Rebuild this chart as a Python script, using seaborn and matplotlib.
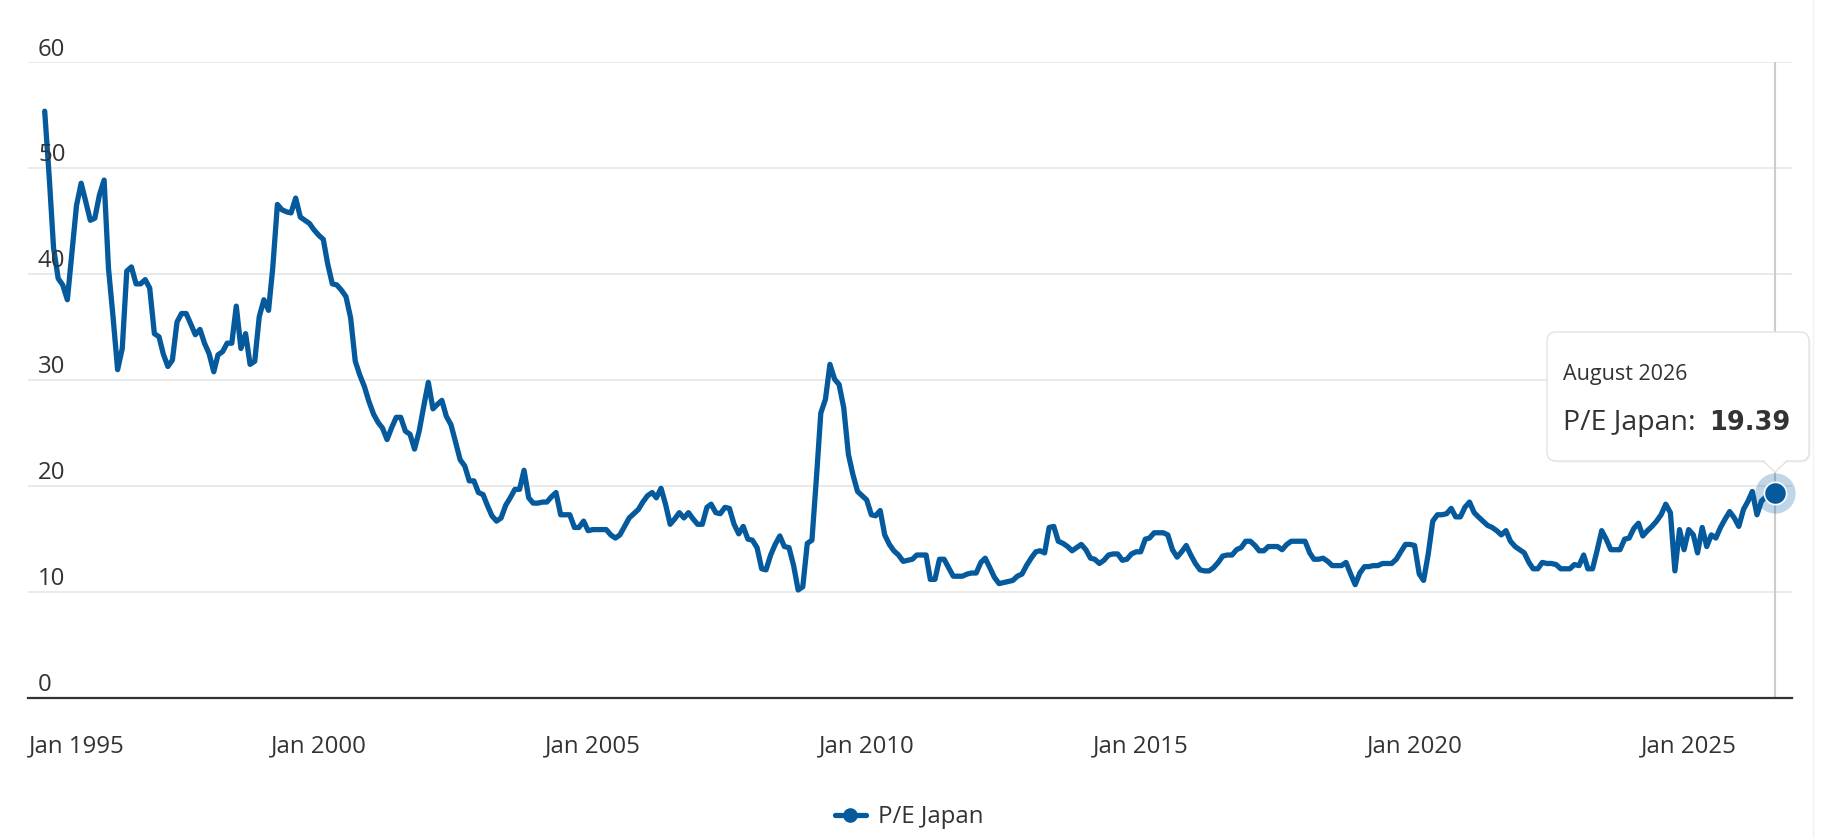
import matplotlib
matplotlib.use("Agg")
import matplotlib.pyplot as plt
import matplotlib.dates as mdates
from matplotlib.lines import Line2D
from matplotlib.patches import FancyBboxPatch, Polygon
from matplotlib.transforms import IdentityTransform, blended_transform_factory, offset_copy
import pandas as pd
import seaborn as sns

# monthly P/E values, Jan 1995 .. Aug 2026
start_month = "1995-01"
end_month = "2026-08"
pe_japan = [
    55.4, 49.0, 42.5, 39.6, 39.0, 37.6, 42.0, 46.5, 48.6, 46.9, 45.1, 45.3,  # 1995
    47.5, 48.9, 40.6, 35.9, 31.0, 33.0, 40.3, 40.7, 39.1, 39.1, 39.5, 38.7,  # 1996
    34.4, 34.1, 32.5, 31.3, 31.9, 35.5, 36.3, 36.3, 35.3, 34.3, 34.8, 33.5,  # 1997
    32.5, 30.8, 32.4, 32.7, 33.5, 33.5, 37.0, 33.0, 34.4, 31.5, 31.8, 36.0,  # 1998
    37.6, 36.6, 40.6, 46.6, 46.1, 45.9, 45.8, 47.2, 45.4, 45.1, 44.8, 44.2,  # 1999
    43.7, 43.3, 41.0, 39.1, 39.0, 38.5, 37.9, 35.9, 31.8, 30.5, 29.4, 28.0,  # 2000
    26.8, 26.0, 25.5, 24.4, 25.5, 26.5, 26.5, 25.2, 24.9, 23.5, 25.2, 27.5,  # 2001
    29.8, 27.3, 27.7, 28.1, 26.6, 25.8, 24.2, 22.5, 21.9, 20.5, 20.5, 19.4,  # 2002
    19.2, 18.1, 17.2, 16.7, 17.0, 18.2, 18.9, 19.7, 19.7, 21.5, 18.9, 18.4,  # 2003
    18.4, 18.5, 18.5, 19.0, 19.4, 17.3, 17.3, 17.3, 16.1, 16.1, 16.7, 15.8,  # 2004
    15.9, 15.9, 15.9, 15.9, 15.4, 15.1, 15.4, 16.2, 17.0, 17.4, 17.8, 18.5,  # 2005
    19.1, 19.4, 18.9, 19.8, 18.3, 16.4, 16.9, 17.5, 17.0, 17.5, 16.9, 16.4,  # 2006
    16.4, 18.0, 18.3, 17.5, 17.4, 18.0, 17.9, 16.4, 15.5, 16.2, 15.0, 14.9,  # 2007
    14.2, 12.2, 12.1, 13.5, 14.5, 15.3, 14.3, 14.2, 12.5, 10.2, 10.5, 14.6,  # 2008
    14.9, 21.0, 26.9, 28.2, 31.5, 30.1, 29.6, 27.4, 23.0, 21.1, 19.5, 19.1,  # 2009
    18.7, 17.3, 17.2, 17.7, 15.4, 14.5, 13.9, 13.5, 12.9, 13.0, 13.1, 13.5,  # 2010
    13.5, 13.5, 11.2, 11.2, 13.1, 13.1, 12.3, 11.5, 11.5, 11.5, 11.7, 11.8,  # 2011
    11.8, 12.8, 13.2, 12.3, 11.4, 10.8, 10.9, 11.0, 11.1, 11.5, 11.7, 12.5,  # 2012
    13.2, 13.8, 13.9, 13.7, 16.1, 16.2, 14.8, 14.6, 14.3, 13.9, 14.2, 14.5,  # 2013
    14.0, 13.2, 13.1, 12.7, 13.0, 13.5, 13.6, 13.6, 13.0, 13.1, 13.6, 13.8,  # 2014
    13.8, 15.0, 15.1, 15.6, 15.6, 15.6, 15.4, 14.0, 13.3, 13.8, 14.4, 13.5,  # 2015
    12.7, 12.1, 12.0, 12.0, 12.3, 12.8, 13.4, 13.5, 13.5, 14.0, 14.2, 14.8,  # 2016
    14.8, 14.4, 13.9, 13.9, 14.3, 14.3, 14.3, 14.0, 14.5, 14.8, 14.8, 14.8,  # 2017
    14.8, 13.7, 13.1, 13.1, 13.2, 12.9, 12.5, 12.5, 12.5, 12.8, 11.7, 10.7,  # 2018
    11.8, 12.4, 12.4, 12.5, 12.5, 12.7, 12.7, 12.7, 13.1, 13.8, 14.5, 14.5,  # 2019
    14.4, 11.7, 11.1, 13.6, 16.7, 17.3, 17.3, 17.4, 17.9, 17.1, 17.1, 18.0,  # 2020
    18.5, 17.5, 17.1, 16.7, 16.3, 16.1, 15.8, 15.4, 15.8, 14.8, 14.3, 14.0,  # 2021
    13.7, 12.8, 12.2, 12.2, 12.8, 12.7, 12.7, 12.6, 12.2, 12.2, 12.2, 12.6,  # 2022
    12.5, 13.5, 12.2, 12.2, 13.9, 15.8, 15.0, 14.0, 14.0, 14.0, 15.0, 15.1,  # 2023
    16.0, 16.5, 15.3, 15.8, 16.2, 16.7, 17.3, 18.3, 17.5, 12.0, 15.9, 14.0,  # 2024
    15.9, 15.4, 13.7, 16.1, 14.3, 15.4, 15.1, 16.1, 16.9, 17.6, 17.0, 16.2,  # 2025
    17.8, 18.6, 19.5, 17.3, 18.6, 19.0, 19.2, 19.39,                         # 2026
]

y_ticks = [0, 10, 20, 30, 40, 50, 60]
x_tick_dates = ["1995-01-01", "2000-01-01", "2005-01-01", "2010-01-01",
                "2015-01-01", "2020-01-01", "2025-01-01"]
x_tick_labels = ["Jan 1995", "Jan 2000", "Jan 2005", "Jan 2010",
                 "Jan 2015", "Jan 2020", "Jan 2025"]
series_name = "P/E Japan"
tooltip_title = "August 2026"

W, H = 1842, 838
LINE = "#045a9c"
TEXT = "#333333"
GRID = "#e6e6e6"

sns.set_style("white")
plt.rcParams["font.family"] = ["Open Sans", "DejaVu Sans"]

dates = pd.date_range(start_month, end_month, freq="MS")
df = pd.DataFrame({"date": dates, "pe": pe_japan})

fig = plt.figure(figsize=(W / 100, H / 100), dpi=100)
fig.patch.set_facecolor("white")
ax = fig.add_axes([28 / W, 1 - 698 / H, (1792 - 28) / W, (698 - 62.5) / H])

sns.lineplot(data=df, x="date", y="pe", ax=ax, color=LINE, linewidth=3.8,
             solid_joinstyle="round", solid_capstyle="round",
             legend=False, zorder=3)

# x range: place Jan 1995 / Jan 2025 ticks where the reference has them
t0 = mdates.date2num(pd.Timestamp(x_tick_dates[0]))
t1 = mdates.date2num(pd.Timestamp(x_tick_dates[-1]))
days_per_px = (t1 - t0) / (1688.7 - 44.7)
ax.set_xlim(t0 - (44.7 - 28) * days_per_px, t1 + (1792 - 1688.7) * days_per_px)
ax.set_ylim(0, 60)

ax.set_yticks(y_ticks)
ax.set_xticks(pd.to_datetime(x_tick_dates))
ax.grid(axis="y", color=GRID, linewidth=1.2)
ax.grid(axis="x", visible=False)
ax.tick_params(axis="y", length=0, labelleft=False)
ax.tick_params(axis="x", length=13, width=1.5, color=TEXT, direction="out",
               labelbottom=False)
ax.set_xlabel("")
ax.set_ylabel("")
for side in ["top", "right", "left"]:
    ax.spines[side].set_visible(False)
ax.spines["bottom"].set_color(TEXT)
ax.spines["bottom"].set_linewidth(1.6)
ax.spines["bottom"].set_zorder(4)

# y labels sit above their grid lines, inside the plot
ytrans = offset_copy(blended_transform_factory(ax.transAxes, ax.transData),
                     fig=fig, x=10, y=7, units="dots")
for v in y_ticks:
    ax.text(0, v, str(v), transform=ytrans, ha="left", va="baseline",
            fontsize=17.3, color=TEXT)

# x labels
xtrans = offset_copy(blended_transform_factory(ax.transData, ax.transAxes),
                     fig=fig, x=0, y=-54, units="dots")
for i, (d, lab) in enumerate(zip(x_tick_dates, x_tick_labels)):
    if i == 0:
        tr = offset_copy(ax.transAxes, fig=fig, x=1, y=-54, units="dots")
        ax.text(0, 0, lab, transform=tr, ha="left", va="baseline",
                fontsize=17.3, color=TEXT)
    else:
        ax.text(mdates.date2num(pd.Timestamp(d)), 0, lab, transform=xtrans,
                ha="center", va="baseline", fontsize=17.3, color=TEXT)

# hover state on the last point
last_date = dates[-1]
last_val = pe_japan[-1]
ax.axvline(last_date, color="#cccccc", linewidth=1.5, zorder=2)
ax.plot([last_date], [last_val], "o", ms=29, color=LINE, alpha=0.25,
        mec="none", zorder=5, clip_on=False)
ax.plot([last_date], [last_val], "o", ms=16, mfc=LINE, mec="white", mew=1.2,
        zorder=6, clip_on=False)

# legend
handle = Line2D([0], [0], color=LINE, lw=3.8, marker="o", ms=9.5)
leg = fig.legend(handles=[handle], labels=[series_name], loc="center",
                 bbox_to_anchor=(909 / W, 1 - 817 / H), frameon=False,
                 fontsize=17.3, handlelength=1.3, handletextpad=0.5)
for t in leg.get_texts():
    t.set_color(TEXT)

# tooltip
ident = IdentityTransform()
bx0, bx1, by_top, by_bot = 1547, 1809, 332, 461
shadow = FancyBboxPatch((bx0 + 1.5, H - by_bot - 1.5), bx1 - bx0, by_bot - by_top,
                        boxstyle="round,pad=0,rounding_size=9", fc="black",
                        ec="none", alpha=0.05, transform=ident, zorder=9)
box = FancyBboxPatch((bx0, H - by_bot), bx1 - bx0, by_bot - by_top,
                     boxstyle="round,pad=0,rounding_size=9", fc="white",
                     ec="#e3e3e3", lw=1.0, transform=ident, zorder=10)
fig.add_artist(shadow)
fig.add_artist(box)
px = 1775
pointer = Polygon([(px - 12, H - by_bot + 1.5), (px + 12, H - by_bot + 1.5),
                   (px, H - 472)], closed=True, fc="white", ec="none",
                  transform=ident, zorder=11)
fig.add_artist(pointer)
fig.add_artist(Line2D([px - 12, px, px + 12], [H - by_bot, H - 472, H - by_bot],
                      color="#e3e3e3", lw=1.0, transform=ident, zorder=11))

fig.text(1563, H - 380, tooltip_title, transform=ident, fontsize=15.5,
         color=TEXT, va="baseline", zorder=12)
name_txt = fig.text(1563, H - 430, f"{series_name}:", transform=ident,
                    fontsize=20.5, color=TEXT, va="baseline", zorder=12)
fig.canvas.draw()
bb = name_txt.get_window_extent()
fig.text(bb.x1 + 14, H - 430, f"{last_val:.2f}", transform=ident,
         fontsize=18.5, fontweight="bold", family="DejaVu Sans", color=TEXT,
         va="baseline", zorder=12)

# faint container edge on the right
fig.add_artist(Line2D([1812.5, 1812.5], [0, H], transform=ident,
                      color="#f2f2f2", lw=1.0))

fig.savefig("out.png", dpi=100, facecolor="white")
